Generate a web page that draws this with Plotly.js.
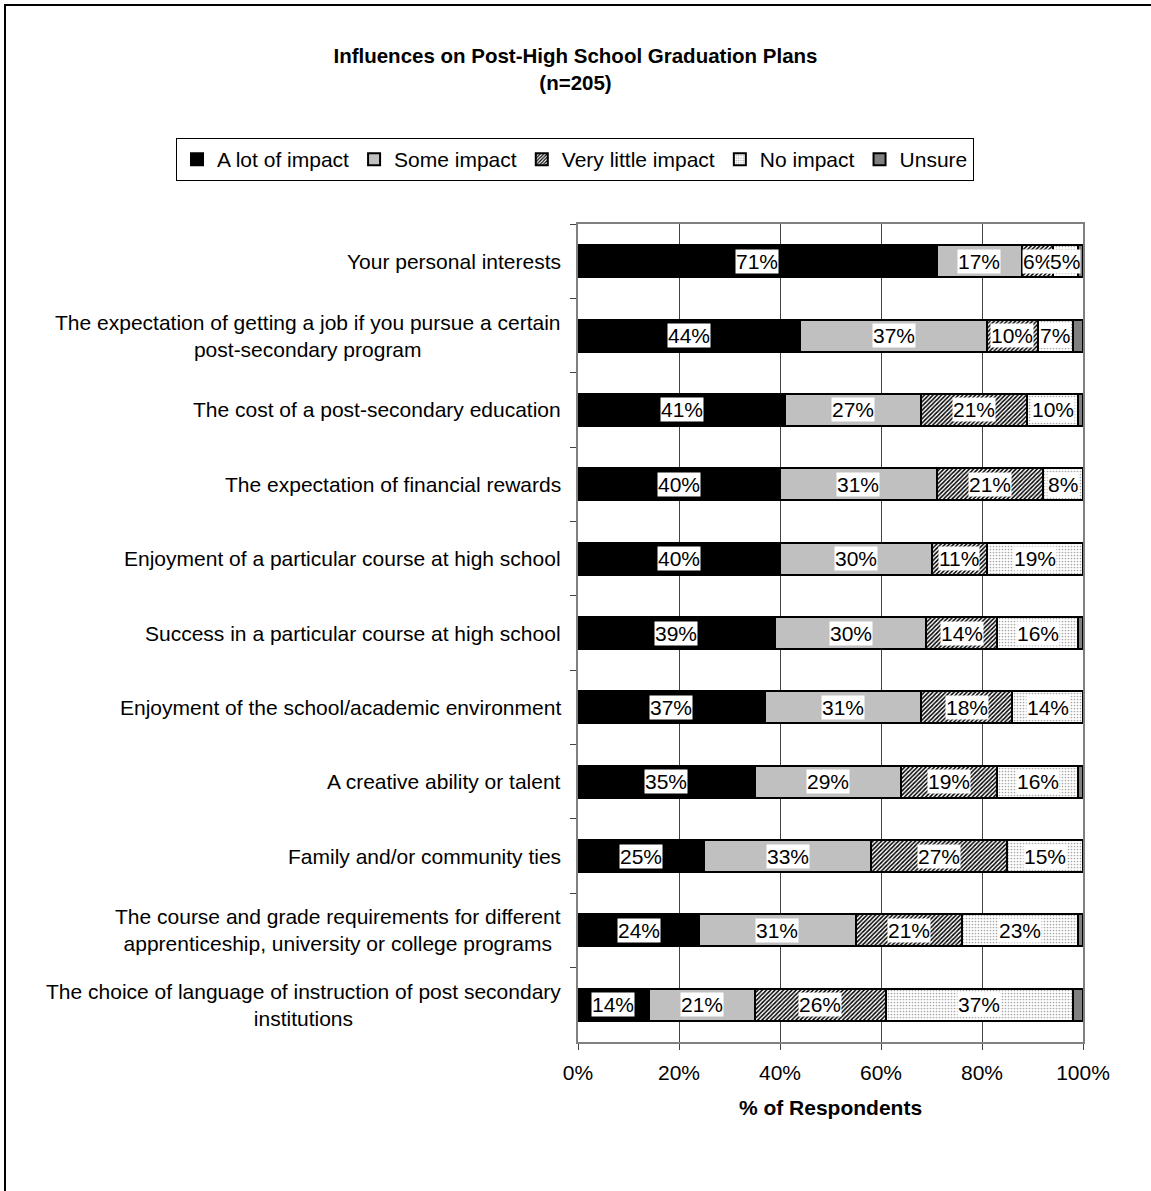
<!DOCTYPE html>
<html>
<head>
<meta charset="utf-8">
<script src="https://cdn.plot.ly/plotly-3.0.1.min.js"></script>
<style>
  html, body { margin: 0; padding: 0; overflow: hidden; background: #fff; }
  #chart { width: 1151px; height: 1191px; }
  #frame { position: absolute; left: 4px; top: 4px; width: 1200px; height: 1250px;
           border: 2px solid #000; pointer-events: none; }
</style>
</head>
<body>
<div id="chart"></div>
<div id="frame"></div>
<script>
// ---- data ----
const categories = [
  "Your personal interests",
  "The expectation of getting a job if you pursue a certain<br>post-secondary program",
  "The cost of a post-secondary education",
  "The expectation of financial rewards",
  "Enjoyment of a particular course at high school",
  "Success in a particular course at high school",
  "Enjoyment of the school/academic environment",
  "A creative ability or talent",
  "Family and/or community ties",
  "The course and grade requirements for different<br>apprenticeship, university or college programs",
  "The choice of language of instruction of post secondary<br>institutions"
];
const seriesNames = ["A lot of impact", "Some impact", "Very little impact", "No impact", "Unsure"];
const aLotOfImpact     = [71, 44, 41, 40, 40, 39, 37, 35, 25, 24, 14];
const someImpact       = [17, 37, 27, 31, 30, 30, 31, 29, 33, 31, 21];
const veryLittleImpact = [6, 10, 21, 21, 11, 14, 18, 19, 27, 21, 26];
const noImpact         = [5, 7, 10, 8, 19, 16, 14, 16, 15, 23, 37];
const unsure           = [1, 2, 1, 0, 0, 1, 0, 1, 0, 1, 2];
const xTickValues = [0, 20, 40, 60, 80, 100];
const xTickLabels = ["0%", "20%", "40%", "60%", "80%", "100%"];

// ---- styles ----
const FONT = "Arial, 'Liberation Sans', sans-serif";
const FS = 21;
const series = [aLotOfImpact, someImpact, veryLittleImpact, noImpact, unsure];
const markers = [
  {color: "#000000"},
  {color: "#C0C0C0"},
  {color: "#FFFFFF", pattern: {shape: "/", fgcolor: "#000000", bgcolor: "#FFFFFF", size: 3, solidity: 0.5}},
  {color: "#FFFFFF", pattern: {shape: ".", fgcolor: "#A8A8A8", bgcolor: "#FFFFFF", size: 3, solidity: 0.25}},
  {color: "#808080"}
];

const traces = series.map((vals, i) => ({
  type: "bar",
  orientation: "h",
  name: seriesNames[i],
  y: categories,
  x: vals,
  marker: Object.assign({}, markers[i], {line: {color: "#000000", width: 2}}),
  hoverinfo: "skip"
}));

// value labels (white boxes), centered in each labelled segment
const annotations = [];
categories.forEach((cat, r) => {
  let cum = 0;
  series.forEach((vals, i) => {
    const v = vals[r];
    if (i < 4 && v > 0) {
      annotations.push({
        x: cum + v / 2, y: cat, xref: "x", yref: "y",
        text: v + "%", showarrow: false,
        font: {family: FONT, size: FS, color: "#000"},
        bgcolor: "#FFFFFF", borderpad: 0
      });
    }
    cum += v;
  });
  // category label, centred lines, right-aligned block
  annotations.push({
    x: -0.03, xref: "paper", xanchor: "right",
    y: cat, yref: "y",
    text: cat, align: "center", showarrow: false,
    font: {family: FONT, size: FS, color: "#000"}
  });
});

const layout = {
  width: 1151, height: 1191,
  margin: {l: 578, r: 68, t: 224, b: 149, autoexpand: false},
  paper_bgcolor: "#FFFFFF", plot_bgcolor: "#FFFFFF",
  font: {family: FONT, size: FS, color: "#000"},
  barmode: "stack",
  bargap: 0.57,
  title: {
    text: "<b>Influences on Post-High School Graduation Plans<br>(n=205)</b>",
    x: 0.5, xref: "container", xanchor: "center",
    y: 0.947, yref: "container", yanchor: "middle",
    font: {family: FONT, size: 20.5, color: "#000"}
  },
  showlegend: true,
  legend: {
    orientation: "h", x: -0.796, xanchor: "left", y: 1.105, yanchor: "top",
    xref: "paper", yref: "paper",
    bordercolor: "#000", borderwidth: 1, bgcolor: "#FFF",
    font: {family: FONT, size: FS},
    itemwidth: 30, tracegroupgap: 0, traceorder: "normal"
  },
  xaxis: {
    range: [0, 100], tickvals: xTickValues, ticktext: xTickLabels,
    showgrid: true, gridcolor: "#444", gridwidth: 1,
    showline: true, linecolor: "#808080", linewidth: 2, mirror: true,
    ticks: "outside", ticklen: 6, tickcolor: "#444",
    ticklabelstandoff: 5,
    zeroline: false, fixedrange: true,
    title: {text: "<b>% of Respondents</b>", font: {family: FONT, size: FS}, standoff: 17},
    tickfont: {family: FONT, size: FS}
  },
  yaxis: {
    type: "category", autorange: "reversed",
    showticklabels: false, tickson: "boundaries",
    ticks: "outside", ticklen: 6, tickcolor: "#444",
    showline: true, linecolor: "#808080", linewidth: 2, mirror: true,
    showgrid: false, zeroline: false, fixedrange: true
  },
  annotations: annotations
};

Plotly.newPlot("chart", traces, layout, {displayModeBar: false, staticPlot: true});
</script>
</body>
</html>
